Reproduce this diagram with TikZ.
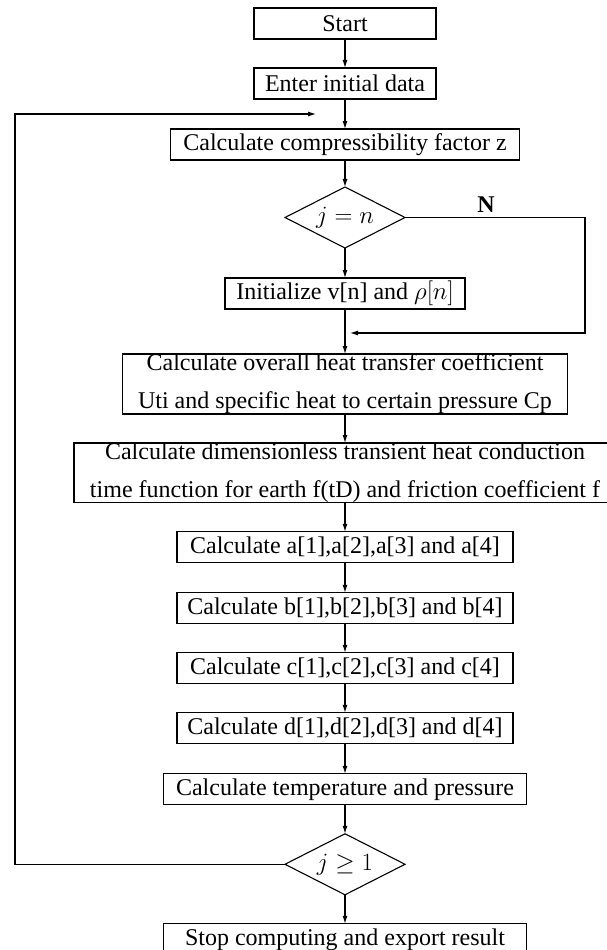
\documentclass[tikz,border=0pt]{standalone}
\usepackage[no-math]{fontspec}
\setmainfont{Liberation Serif}
\usetikzlibrary{arrows.meta, positioning, shapes.geometric, calc}

\begin{document}
\begin{tikzpicture}[
  x=1pt, y=-1pt,
  font=\fontsize{24}{38}\selectfont,
  node distance=30pt,
  procbox/.style={rectangle, draw, line width=1.1pt, inner xsep=6pt, outer sep=0pt,
                  inner ysep=0pt, minimum height=31pt, align=center},
  decision/.style={diamond, draw, line width=1.1pt, inner sep=0pt, outer sep=0pt,
                   aspect=2, minimum width=120pt, minimum height=61pt},
  arrow/.style={-{Latex[length=8pt,width=5pt]}, line width=1.1pt},
]
\useasboundingbox (0,0) rectangle (606,950);

\node[procbox, minimum width=182pt] (start) at (345,23.5) {Start};

\node[procbox, minimum width=182pt, below=29pt of start] (enter) {Enter initial data};

\node[procbox, minimum width=349pt, below=of enter] (compress)
  {Calculate compressibility factor z};

\node[decision, below=27pt of compress] (jeqn) {$j=n$};

\node[procbox, minimum width=240pt, below=of jeqn] (init)
  {Initialize v[n] and $\rho[n]$};

\node[procbox, minimum width=445pt, below=45pt of init] (heat)
  {Calculate overall heat transfer coefficient\\
   Uti and specific heat to certain pressure Cp};

\node[procbox, minimum width=542pt, below=29pt of heat] (dimless)
  {Calculate dimensionless transient heat conduction\\
   time function for earth f(tD) and friction coefficient f};

\node[procbox, minimum width=336pt, below=29pt of dimless] (coefa)
  {Calculate a[1],a[2],a[3] and a[4]};

\node[procbox, minimum width=336pt, below=of coefa] (coefb)
  {Calculate b[1],b[2],b[3] and b[4]};

\node[procbox, minimum width=336pt, below=29pt of coefb] (coefc)
  {Calculate c[1],c[2],c[3] and c[4]};

\node[procbox, minimum width=336pt, below=29pt of coefc] (coefd)
  {Calculate d[1],d[2],d[3] and d[4]};

\node[procbox, minimum width=363pt, below=of coefd] (temp)
  {Calculate temperature and pressure};

\node[decision, below=29pt of temp] (jge) {$j\geq 1$};

\node[procbox, minimum width=363pt, below=29pt of jge] (stop)
  {Stop computing and export result};

% free ends of the two side branches
\coordinate (loopend) at ($(compress.north)+(-29pt,15pt)$);
\coordinate (mergein) at ($(heat.north)+(5pt,21pt)$);

% ---- main line ----
\draw[arrow] (start)    -- (enter);
\draw[arrow] (enter)    -- (compress);
\draw[arrow] (compress) -- (jeqn);
\draw[arrow] (jeqn)     -- (init);
\draw[arrow] (init)     -- (heat);
\draw[arrow] (heat)     -- (dimless);
\draw[arrow] (dimless)  -- (coefa);
\draw[arrow] (coefa)    -- (coefb);
\draw[arrow] (coefb)    -- (coefc);
\draw[arrow] (coefc)    -- (coefd);
\draw[arrow] (coefd)    -- (temp);
\draw[arrow] (temp)     -- (jge);
\draw[arrow] (jge)      -- (stop);

% ---- branches ----
\draw[arrow] (jeqn.east) -- node[pos=0.45, above=1pt, font=\fontsize{24}{28}\selectfont\bfseries] {N}
  ++(180pt,0) |- (mergein);
\draw[arrow] (jge.west) -- ++(-270pt,0) |- (loopend);

\end{tikzpicture}
\end{document}
